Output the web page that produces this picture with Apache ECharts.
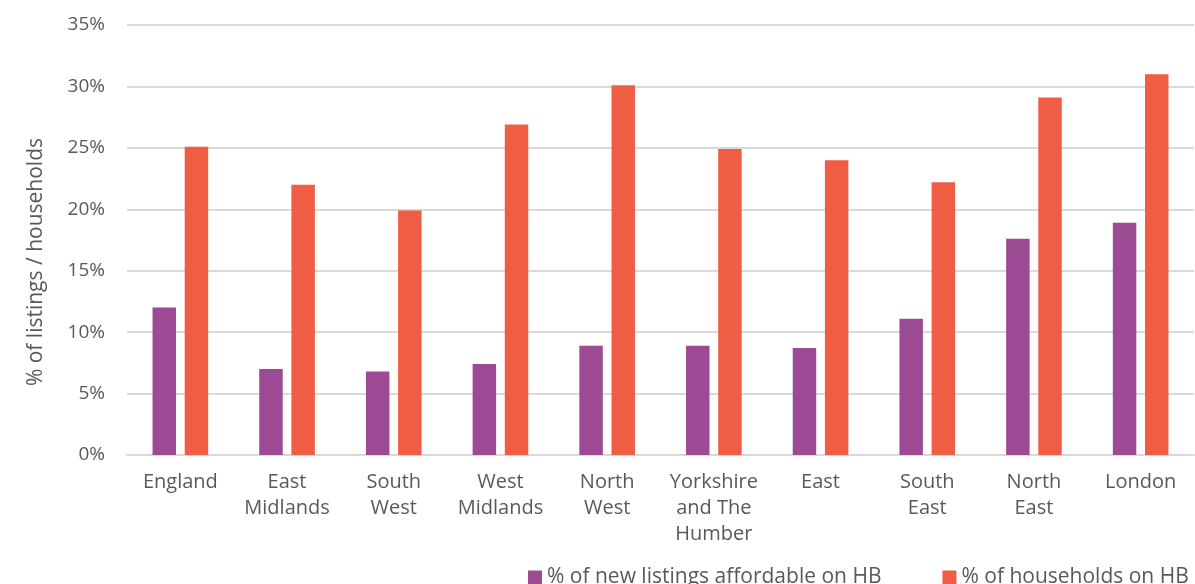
<!DOCTYPE html>
<html><head><meta charset="utf-8">
<script src="https://cdn.jsdelivr.net/npm/echarts@6/dist/echarts.min.js"></script>
<style>html,body{margin:0;padding:0;background:#fff}#c{width:1195px;height:584px}</style>
</head><body><div id="c"></div>
<script>
const categories = ['England','East\nMidlands','South\nWest','West\nMidlands','North\nWest','Yorkshire\nand The\nHumber','East','South\nEast','North\nEast','London'];
const listingsAffordable = [12.0, 7.0, 6.8, 7.4, 8.9, 8.9, 8.7, 11.1, 17.6, 18.9];
const householdsOnHB = [25.1, 22.0, 19.9, 26.9, 30.1, 24.9, 24.0, 22.2, 29.1, 31.0];
const seriesNames = ['% of new listings affordable on HB', '% of households on HB'];
const FONT = '"Open Sans", sans-serif';
const chart = echarts.init(document.getElementById('c'));
chart.setOption({
  animation: false,
  color: ['#9C4A94', '#F05D45'],
  grid: { left: 127, right: 1, top: 25, bottom: 129, containLabel: false },
  legend: {
    left: 523, top: 562, width: 800, itemWidth: 14, itemHeight: 14, itemGap: 61,
    icon: 'rect',
    textStyle: { fontFamily: FONT, fontSize: 21, color: '#595959' },
    data: seriesNames
  },
  xAxis: {
    type: 'category', data: categories,
    axisLine: { lineStyle: { color: '#d9d9d9', width: 2 } },
    axisTick: { show: false },
    axisLabel: { fontFamily: FONT, fontSize: 20, color: '#595959', lineHeight: 26, margin: 14, interval: 0 }
  },
  yAxis: {
    type: 'value', min: 0, max: 35, interval: 5,
    axisLine: { show: false }, axisTick: { show: false },
    axisLabel: { formatter: '{value}%', fontFamily: FONT, fontSize: 19, color: '#595959', margin: 22 },
    splitLine: { lineStyle: { color: '#d9d9d9', width: 2 } }
  },
  graphic: [{
    type: 'text', left: 26, top: 138, rotation: Math.PI / 2,
    style: { text: '% of listings / households', font: '21px ' + FONT, fill: '#595959' }
  }],
  series: [
    { name: seriesNames[0], type: 'bar', data: listingsAffordable, barWidth: '22%', barGap: '37%' },
    { name: seriesNames[1], type: 'bar', data: householdsOnHB, barWidth: '22%', barGap: '37%' }
  ]
});
</script></body></html>
